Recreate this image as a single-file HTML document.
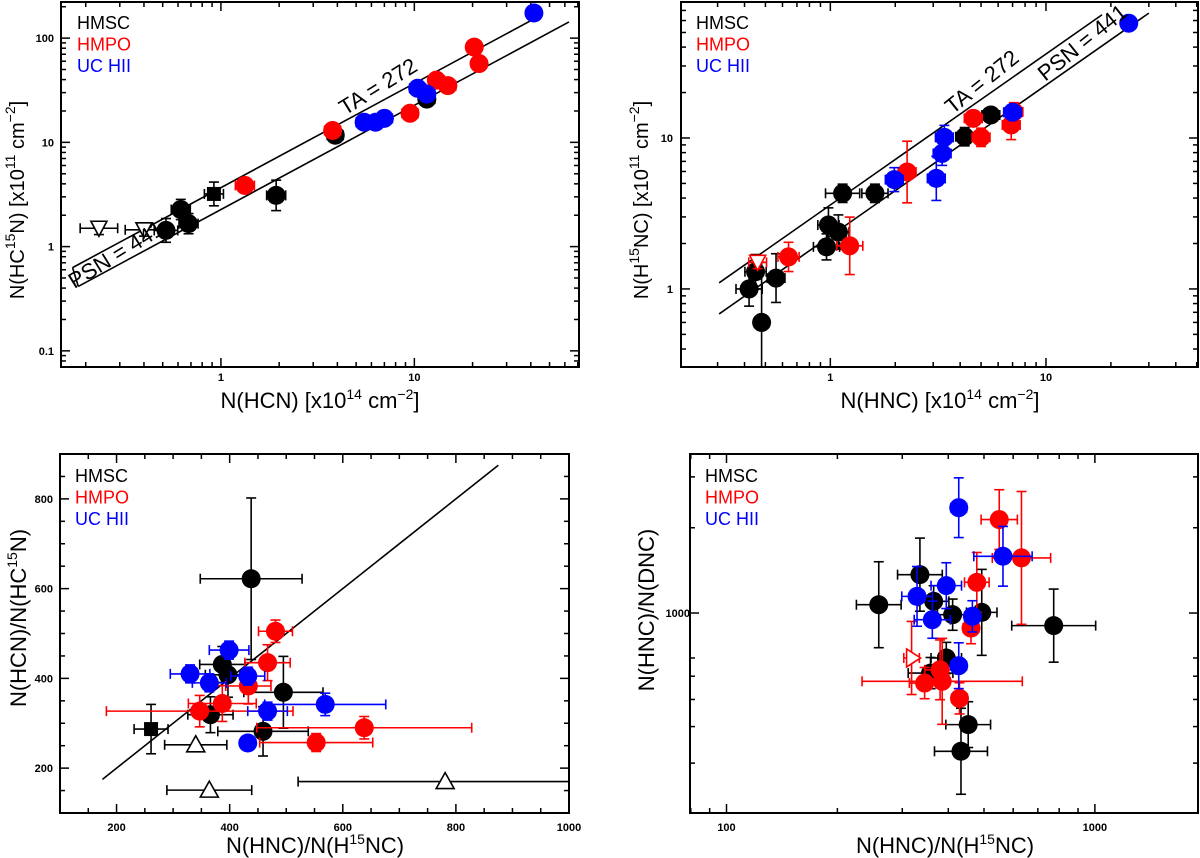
<!DOCTYPE html>
<html><head><meta charset="utf-8"><style>
body{margin:0;background:#fff;}
svg{display:block;font-family:"Liberation Sans",sans-serif;}
.tl{font-size:11px;font-weight:bold;}
.tt{font-size:22px;}
.ty{font-size:20px;}
.lg{font-size:18px;}
</style></head><body>
<svg id="fig" width="1200" height="858" viewBox="0 0 1200 858" xmlns="http://www.w3.org/2000/svg"></svg>
<script>
// ---- data: [x, y, xerr, yerr] (relative errors on log axes, absolute on linear)
const p1Black = [[0.52,1.43,0.15,0.3],[0.62,2.27,0.12,0.25],[0.68,1.66,0.12,0.25],[1.93,3.1,0.12,0.4],[3.9,11.7,0.1,0.1],[11.6,26,0.1,0.1]];
const p1Square = [[0.92,3.2,0.12,0.3]];
const p1Tri = [[0.234,1.5,0.25,0.15],[0.40,1.45,0.25,0.15]];
const p1Red = [[3.78,13,0.1,0.15],[1.33,3.86,0.12,0.15],[9.5,19,0.1,0.15],[13,39.5,0.1,0.15],[14.9,35,0.1,0.15],[20.4,82,0.08,0.15],[21.6,57,0.08,0.15]];
const p1Blue = [[5.5,15.6,0.1,0.15],[6.3,15.6,0.1,0.15],[7.0,17,0.1,0.15],[10.4,33,0.1,0.15],[11.6,29,0.1,0.15],[41.5,174,0.08,0.1]];

const p2Black = [[0.42,1.0,0.15,0.3],[0.45,1.3,0.12,0.3],[0.48,0.6,0.08,1.5],[0.56,1.18,0.1,0.45],[0.96,1.9,0.15,0.22],[0.98,2.65,0.12,0.3],[1.09,2.38,0.12,0.3],[1.14,4.3,0.2,0.15],[1.61,4.3,0.15,0.15],[4.2,10.2,0.1,0.15],[5.55,14.2,0.1,0.1]];
const p2Red = [[0.64,1.63,0.12,0.25],[1.23,1.93,0.15,0.55],[2.27,5.95,0.1,0.6],[4.6,13.5,0.1,0.1],[5.0,10.1,0.1,0.15],[6.9,12.2,0.1,0.25],[7.1,14.9,0.1,0.15]];
const p2RedTri = [[0.46,1.5,0.1,0.1]];
const p2Blue = [[1.98,5.3,0.1,0.2],[3.1,5.4,0.1,0.4],[3.3,7.9,0.1,0.2],[3.38,10.1,0.1,0.2],[7.0,14.8,0.1,0.12],[24.2,57.6,0.08,0.08]];

const p3Black = [[438,622,90,180],[387,431,40,40],[397,408,40,50],[495,369,70,80],[459,282,80,55],[366,319,40,40]];
const p3Square = [[261,287,30,55]];
const p3Tri = [[340,252,55,0],[364,151,75,0],[781,170,260,0]];
const p3Red = [[481,505,30,25],[467,435,40,40],[433,383,40,40],[387,344,60,40],[347,327,165,35],[638,290,190,25],[553,257,100,20]];
const p3Blue = [[399,463,35,20],[330,410,35,20],[364,390,30,20],[432,405,30,20],[467,327,35,20],[569,342,107,25],[432,256,12,12]];

const p4Black = [[259,1052,0.15,0.3],[335,1264,0.15,0.25],[365,1074,0.1,0.1],[411,990,0.1,0.1],[493,1004,0.1,0.3],[773,926,0.3,0.25],[395,760,0.1,0.1],[358,693,0.15,0.1],[453,506,0.15,0.15],[433,430,0.18,0.3]];
const p4Red = [[550,1769,0.12,0.2],[632,1400,0.2,0.5],[478,1206,0.08,0.2],[461,912,0.05,0.1],[345,652,0.1,0.1],[380,707,0.1,0.2],[385,659,0.65,0.3],[429,594,0.05,0.1]];
const p4RedTri = [[318,760,0.05,0.25]];
const p4Blue = [[427,1902,0.05,0.2],[563,1414,0.2,0.2],[395,1182,0.1,0.15],[329,1107,0.1,0.2],[362,960,0.12,0.12],[465,980,0.05,0.1],[427,725,0.05,0.15]];

const p4YTicks = [2296,1683,1000,760,680,590,500,400];

const NS='http://www.w3.org/2000/svg';
const svg=document.getElementById('fig');
function el(tag,attrs,parent){const e=document.createElementNS(NS,tag);for(const k in attrs)e.setAttribute(k,attrs[k]);(parent||svg).appendChild(e);return e;}

function mkScale(type,d0,d1,p0,p1){
  if(type==='log'){const a=Math.log10(d0),b=Math.log10(d1);return v=>p0+(Math.log10(v)-a)/(b-a)*(p1-p0);}
  return v=>p0+(v-d0)/(d1-d0)*(p1-p0);
}

function panel(cfg){
  const g=el('g',{});
  
  
  const {l,t,r,b}=cfg.box;
  const sx=mkScale(cfg.xt,cfg.xd[0],cfg.xd[1],l,r);
  const sy=mkScale(cfg.yt,cfg.yd[0],cfg.yd[1],b,t);
  const fr=el('rect',{x:l,y:t,width:r-l,height:b-t,fill:'none',stroke:'#000','stroke-width':2},g);
  
  
  function ticks(axis,d,majors,minors){
    const s=axis==='x'?sx:sy;
    const lo=Math.min(d[0],d[1]),hi=Math.max(d[0],d[1]);
    const draw=(v,len)=>{
      if(v<lo||v>hi)return;const p=s(v);
      if(axis==='x'){el('line',{x1:p,y1:b,x2:p,y2:b-len,stroke:'#000','stroke-width':1.5},g);el('line',{x1:p,y1:t,x2:p,y2:t+len,stroke:'#000','stroke-width':1.5},g);}
      else{el('line',{x1:l,y1:p,x2:l+len,y2:p,stroke:'#000','stroke-width':1.5},g);el('line',{x1:r,y1:p,x2:r-len,y2:p,stroke:'#000','stroke-width':1.5},g);}
    };
    majors.forEach(v=>draw(v,9));minors.forEach(v=>draw(v,5));
  }
  function logMinors(){const out=[];for(let e=-3;e<5;e++)for(let k=2;k<10;k++)out.push(k*Math.pow(10,e));return out;}
  function logMajors(){const out=[];for(let e=-3;e<5;e++)out.push(Math.pow(10,e));return out;}
  if(cfg.xt==='log')ticks('x',cfg.xd,logMajors(),logMinors());
  else{const M=[],m=[];for(let v=cfg.xd[0];v<=cfg.xd[1];v+=50){(v%200===0?M:m).push(v);}ticks('x',cfg.xd,M,m);}
  if(cfg.yticks)ticks('y',cfg.yd,[cfg.yticks[2]],cfg.yticks.filter((v,i)=>i!==2));
  else if(cfg.yt==='log')ticks('y',cfg.yd,logMajors(),logMinors());
  else{const M=[],m=[];for(let v=cfg.yd[0];v<=cfg.yd[1];v+=50){(v%200===0?M:m).push(v);}ticks('y',cfg.yd,M,m);}
  cfg.xlabels.forEach(([v,txt])=>{const tx=el('text',{x:sx(v),y:cfg.xly,'text-anchor':'middle',class:'tl'},g);tx.textContent=txt;
    
    });
  cfg.ylabels.forEach(([v,txt])=>{const tx=el('text',{x:cfg.ylx,y:sy(v)+4,'text-anchor':'end',class:'tl'},g);tx.textContent=txt;
    
    });
  (cfg.lines||[]).forEach(([x0,x1,ratio])=>{
    const ln=el('line',{x1:sx(x0),y1:sy(x0*ratio),x2:sx(x1),y2:sy(x1*ratio),stroke:'#000','stroke-width':1.6},g);
    
    
  });
  const clip='clip'+cfg.name;
  const cp=el('clipPath',{id:clip},g);el('rect',{x:l,y:t,width:r-l,height:b-t},cp);
  const dg=el('g',{'clip-path':'url(#'+clip+')'},g);
  function err(pt,color){
    const [x,y,ex,ey]=pt;let x0,x1,y0,y1;
    if(cfg.xt==='log'){x0=x/(1+ex);x1=x*(1+ex);}else{x0=x-ex;x1=x+ex;}
    if(cfg.yt==='log'){y0=y/(1+ey);y1=y*(1+ey);}else{y0=y-ey;y1=y+ey;}
    if(y0<=0)y0=cfg.yd[0]*0.5;
    const px=sx(x),py=sy(y),c=5;
    const e=el('g',{stroke:color,'stroke-width':1.6},dg);
    
    
    if(ex>0){el('line',{x1:sx(x0),y1:py,x2:sx(x1),y2:py},e);el('line',{x1:sx(x0),y1:py-c,x2:sx(x0),y2:py+c},e);el('line',{x1:sx(x1),y1:py-c,x2:sx(x1),y2:py+c},e);}
    if(ey>0){el('line',{x1:px,y1:sy(y0),x2:px,y2:sy(y1)},e);el('line',{x1:px-c,y1:sy(y0),x2:px+c,y2:sy(y0)},e);el('line',{x1:px-c,y1:sy(y1),x2:px+c,y2:sy(y1)},e);}
  }
  function series(arr,color,shape,name){
    arr.forEach(pt=>err(pt,color));
    arr.forEach(pt=>{
      const px=sx(pt[0]),py=sy(pt[1]);let m;
      if(shape==='circle')m=el('circle',{cx:px,cy:py,r:9.5,fill:color},dg);
      else if(shape==='square')m=el('rect',{x:px-7,y:py-7,width:14,height:14,fill:color},dg);
      else if(shape==='tridown')m=el('polygon',{points:`${px-8},${py-7} ${px+8},${py-7} ${px},${py+8}`,fill:'#fff',stroke:color,'stroke-width':1.6},dg);
      else if(shape==='triup')m=el('polygon',{points:`${px-9},${py+7} ${px+9},${py+7} ${px},${py-9}`,fill:'#fff',stroke:color,'stroke-width':1.6},dg);
      else m=el('polygon',{points:`${px-5},${py-9} ${px-5},${py+9} ${px+9},${py}`,fill:'#fff',stroke:color,'stroke-width':1.6},dg);
      
      
    });
  }
  cfg.series.forEach(s=>series(s[0],s[1],s[2],s[3]));
  [['HMSC','#000'],['HMPO','#f00'],['UC  HII','#00f']].forEach((lgd,i)=>{
    const tx=el('text',{x:cfg.lx,y:cfg.ly+i*21.5,fill:lgd[1],class:'lg','xml:space':'preserve'},g);tx.textContent=lgd[0];
    
    
  });
  return {sx,sy,g};
}
// parts: array of [text, isSuperscript]
function title(x,y,parts,rot,name,cls){
  const t=el('text',{x:x,y:y,'text-anchor':'middle',class:cls||'tt','xml:space':'preserve'});
  if(rot)t.setAttribute('transform',`rotate(-90 ${x} ${y})`);
  let html='',up=false;
  parts.forEach(([s,isSup])=>{
    if(isSup){html+=`<tspan dy="-9" font-size="14">${s}</tspan>`;up=true;}
    else{html+=`<tspan dy="${up?9:0}">${s}</tspan>`;up=false;}
  });
  t.innerHTML=html;
  
  
}
function rotLabel(x,y,a,txt,name){
  const t=el('text',{x:x,y:y,'text-anchor':'middle',class:'tt','xml:space':'preserve',transform:`rotate(${a} ${x} ${y})`});t.textContent=txt;
  
  
}

// Panel 1
const P1=panel({name:'panel-hcn',box:{l:61,t:2,r:579,b:367},xt:'log',xd:[0.149,71],yt:'log',yd:[0.07,222],
  xlabels:[[1,'1'],[10,'10']],xly:381,ylabels:[[100,'100'],[10,'10'],[1,'1'],[0.1,'0.1']],ylx:54,
  lines:[[0.171,44,3.676],[0.183,63,2.268]],lx:77,ly:29,
  series:[[p1Black,'#000','circle','hmsc-point'],[p1Square,'#000','square','hmsc-square'],[p1Tri,'#000','tridown','hmsc-upper-limit'],[p1Red,'#f00','circle','hmpo-point'],[p1Blue,'#00f','circle','uchii-point']]});
(function(){
 const e=el('line',{x1:P1.sx(0.171),y1:P1.sy(0.171*3.676),x2:P1.sx(0.183),y2:P1.sy(0.183*2.268),stroke:'#000','stroke-width':1.6});
 
 
 rotLabel(P1.sx(6.8),P1.sy(6.8*3.676)-8,-31.8,'TA  =  272','ta-label');
 rotLabel(P1.sx(0.3),P1.sy(0.3*2.9)+8,-31.8,'PSN  =  441','psn-label');
})();
title(320,408,[['N(HCN)  [x10'],['14',1],['  cm'],['−2',1],[']']],false,'x-axis-title');
title(24,200,[['N(HC'],['15',1],['N)  [x10'],['11',1],['  cm'],['−2',1],[']']],true,'y-axis-title','ty');

// Panel 2
const P2=panel({name:'panel-hnc',box:{l:681,t:2,r:1198,b:367},xt:'log',xd:[0.203,50.7],yt:'log',yd:[0.304,79.6],
  xlabels:[[1,'1'],[10,'10']],xly:381,ylabels:[[10,'10'],[1,'1']],ylx:673,
  lines:[[0.305,18.2,3.6],[0.305,30,2.24]],lx:696,ly:29,
  series:[[p2Black,'#000','circle','hmsc-point'],[p2RedTri,'#f00','tridown','hmpo-upper-limit'],[p2Red,'#f00','circle','hmpo-point'],[p2Blue,'#00f','circle','uchii-point']]});
rotLabel(P2.sx(5.3),P2.sy(5.3*3.6)-8,-38.8,'TA  =  272','ta-label');
rotLabel(P2.sx(15.5),P2.sy(15.5*2.24)-8,-38.8,'PSN  =  441','psn-label');
title(940,408,[['N(HNC)  [x10'],['14',1],['  cm'],['−2',1],[']']],false,'x-axis-title');
title(648,200,[['N(H'],['15',1],['NC)  [x10'],['11',1],['  cm'],['−2',1],[']']],true,'y-axis-title','ty');

// Panel 3
panel({name:'panel-ratio-hcn',box:{l:60,t:454,r:569,b:813},xt:'lin',xd:[100,1000],yt:'lin',yd:[100,900],
  xlabels:[[200,'200'],[400,'400'],[600,'600'],[800,'800'],[1000,'1000']],xly:831,ylabels:[[200,'200'],[400,'400'],[600,'600'],[800,'800']],ylx:53,
  lines:[[175,875,1]],lx:75,ly:482,
  series:[[p3Black,'#000','circle','hmsc-point'],[p3Square,'#000','square','hmsc-square'],[p3Tri,'#000','triup','hmsc-lower-limit'],[p3Red,'#f00','circle','hmpo-point'],[p3Blue,'#00f','circle','uchii-point']]});
title(315,853,[['N(HNC)/N(H'],['15',1],['NC)']],false,'x-axis-title');
title(26,618,[['N(HCN)/N(HC'],['15',1],['N)']],true,'y-axis-title');

// Panel 4
panel({name:'panel-ratio-dnc',box:{l:690,t:454,r:1198,b:813},xt:'log',xd:[79.6,1905],yt:'log',yd:[295,2640],yticks:p4YTicks,
  xlabels:[[100,'100'],[1000,'1000']],xly:831,ylabels:[[1000,'1000']],ylx:690,
  lx:705,ly:482,
  series:[[p4Black,'#000','circle','hmsc-point'],[p4RedTri,'#f00','triright','hmpo-limit'],[p4Red,'#f00','circle','hmpo-point'],[p4Blue,'#00f','circle','uchii-point']]});
title(945,853,[['N(HNC)/N(H'],['15',1],['NC)']],false,'x-axis-title');
title(654,610,[['N(HNC)/N(DNC)']],true,'y-axis-title');
</script>
</body></html>
